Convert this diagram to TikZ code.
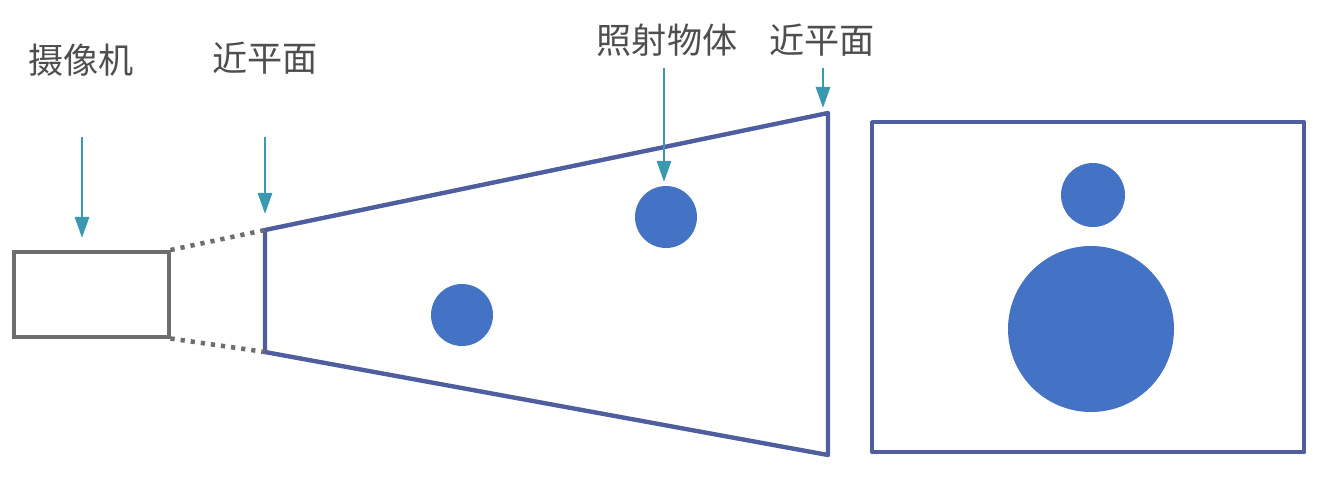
\documentclass[tikz,border=0pt]{standalone}
\usepackage{fontspec}
\newfontfamily\cjk{Noto Sans CJK SC}
\usetikzlibrary{arrows.meta}
\definecolor{teal1}{HTML}{3A98B0}
\definecolor{frame}{HTML}{4F5E9E}
\definecolor{ball}{HTML}{4472C4}
\definecolor{camgray}{HTML}{6E6E6E}
\definecolor{txt}{HTML}{4E4E4E}
\tikzset{
  lbl/.style={font=\cjk\fontsize{20}{22}\selectfont, text=txt, inner sep=0pt},
  pointer/.style={draw=teal1, line width=1.6pt, -{Triangle[length=12pt,width=8pt]}},
  framebox/.style={draw=frame, line width=2.5pt, line join=round},
  ballstyle/.style={circle, fill=ball, draw=none, inner sep=0pt},
  dotline/.style={camgray, line width=2.6pt, dash pattern=on 2.4pt off 3.4pt},
}
\begin{document}
\begin{tikzpicture}[x=0.02cm,y=-0.02cm]
\useasboundingbox (0,0) rectangle (1321,484);
% camera
\node[draw=camgray, line width=2pt, minimum width=155*0.02cm, minimum height=85*0.02cm, inner sep=0pt, anchor=north west] (cam) at (12,250) {};
% frustum corners
\coordinate (f1) at (265,230);
\coordinate (f2) at (828,113);
\coordinate (f3) at (828,455);
\coordinate (f4) at (265,352);
\draw[framebox] (f1) -- (f2) -- (f3) -- (f4) -- cycle;
\draw[dotline] (cam.north east) -- (f1);
\draw[dotline] (cam.south east) -- (f4);
% balls in frustum
\node[ballstyle, minimum size=62*0.02cm] (b1) at (462,315) {};
\node[ballstyle, minimum size=62*0.02cm] (b2) at (666,217) {};
% image plane
\node[framebox, minimum width=432*0.02cm, minimum height=330*0.02cm, inner sep=0pt, anchor=north west] (img) at (870,120) {};
\node[ballstyle, minimum size=64*0.02cm] (b3) at (1093,195) {};
\node[ballstyle, minimum size=166*0.02cm] (b4) at (1091,329) {};
% labels
\node[lbl] (l1) at (81,60) {摄像机};
\node[lbl] (l2) at (265,58) {近平面};
\node[lbl] (l3) at (667,40) {照射物体};
\node[lbl] (l4) at (822,40) {近平面};
% pointers
\coordinate (a1s) at (82,137);
\coordinate (a1e) at (82,238);
\coordinate (a2s) at (265,137);
\coordinate (a2e) at (265,214);
\coordinate (a3s) at (664,68);
\coordinate (a3e) at (664,182);
\coordinate (a4s) at (823,68);
\coordinate (a4e) at (823,108);
\draw[pointer] (a1s) -- (a1e);
\draw[pointer] (a2s) -- (a2e);
\draw[pointer] (a3s) -- (a3e);
\draw[pointer] (a4s) -- (a4e);
\end{tikzpicture}
\end{document}
